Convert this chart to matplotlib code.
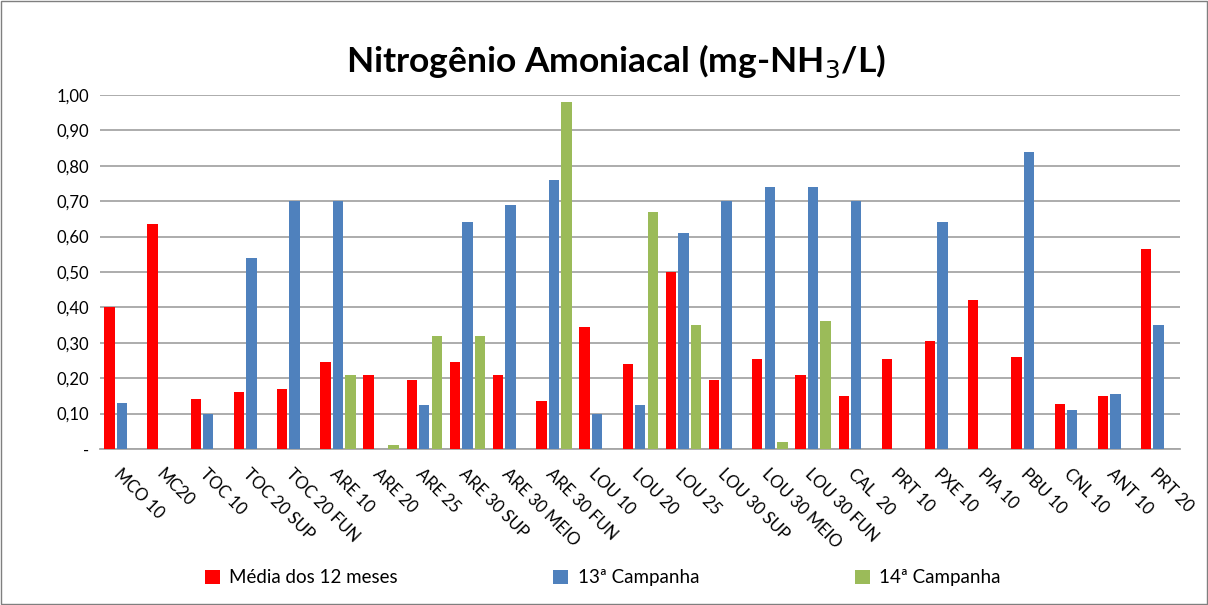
import numpy as np
import matplotlib.pyplot as plt
from matplotlib.patches import Rectangle

nan = np.nan

# estações de coleta
categories = ['MCO 10', 'MC20', 'TOC 10', 'TOC 20 SUP', 'TOC 20 FUN', 'ARE 10', 'ARE 20',
              'ARE 25', 'ARE 30 SUP', 'ARE 30 MEIO', 'ARE 30 FUN', 'LOU 10', 'LOU 20',
              'LOU 25', 'LOU 30 SUP', 'LOU 30 MEIO', 'LOU 30 FUN', 'CAL  20', 'PRT 10',
              'PXE 10', 'PIA 10', 'PBU 10', 'CNL 10', 'ANT 10', 'PRT 20']

media_12 = [0.40, 0.635, 0.14, 0.16, 0.17, 0.245, 0.21, 0.195, 0.245, 0.21, 0.135, 0.345,
            0.24, 0.50, 0.195, 0.255, 0.21, 0.15, 0.255, 0.305, 0.42, 0.26, 0.128, 0.15, 0.565]
camp_13 = [0.13, nan, 0.10, 0.54, 0.70, 0.70, nan, 0.125, 0.64, 0.69, 0.76, 0.10,
           0.125, 0.61, 0.70, 0.74, 0.74, 0.70, nan, 0.64, nan, 0.84, 0.11, 0.155, 0.35]
camp_14 = [nan, nan, nan, nan, nan, 0.21, 0.01, 0.32, 0.32, nan, 0.98, nan,
           0.67, 0.35, nan, 0.02, 0.36, nan, nan, nan, nan, nan, nan, nan, nan]

series_names = ['Média dos 12 meses', '13ª Campanha', '14ª Campanha']
colors = ['#ff0000', '#4f81bd', '#9bbb59']

yticks = [0.0, 0.1, 0.2, 0.3, 0.4, 0.5, 0.6, 0.7, 0.8, 0.9, 1.0]
ytick_labels = ['-', '0,10', '0,20', '0,30', '0,40', '0,50', '0,60', '0,70', '0,80', '0,90', '1,00']

plt.rcParams['font.family'] = ['Lato', 'DejaVu Sans']

fig = plt.figure(figsize=(12.08, 6.05), dpi=100)
ax = fig.add_axes([0.083, 0.258, 0.894, 0.585])

x = np.arange(len(categories))
offsets = [-0.29, 0.0, 0.29]
for vals, off, c, name in zip([media_12, camp_13, camp_14], offsets, colors, series_names):
    ax.bar(x + off, vals, width=0.24, color=c, label=name, zorder=3)

ax.set_xlim(-0.5, len(categories) - 0.5)
ax.set_ylim(0, 1.0)
ax.set_yticks(yticks)
ax.set_yticklabels(ytick_labels, fontsize=12)
ax.grid(axis='y', color='#a6a6a6', linewidth=1.3, zorder=0)
ax.tick_params(axis='y', length=0, pad=8)
ax.tick_params(axis='x', length=0, pad=12)
ax.set_xticks(x)
ax.set_xticklabels(categories, rotation=-45, ha='left', va='top',
                   rotation_mode='anchor', fontsize=12)
for s in ['top', 'right', 'left']:
    ax.spines[s].set_visible(False)
ax.spines['bottom'].set_color('#a6a6a6')
ax.spines['bottom'].set_linewidth(1.3)

fig.text(0.51, 0.898, 'Nitrogênio Amoniacal (mg-NH$_3$/L)', ha='center', va='center',
         fontsize=25.5, fontweight='bold')

fig.legend(loc='center', bbox_to_anchor=(0.499, 0.045), ncol=3, frameon=False,
           fontsize=13.5, columnspacing=8.3, handlelength=0.8, handleheight=0.8,
           handletextpad=0.5)

fig.patches.append(Rectangle((0.001, 0.001), 0.998, 0.998, transform=fig.transFigure,
                             fill=False, edgecolor='#7f7f7f', linewidth=1))

fig.savefig('out.png', dpi=100)
